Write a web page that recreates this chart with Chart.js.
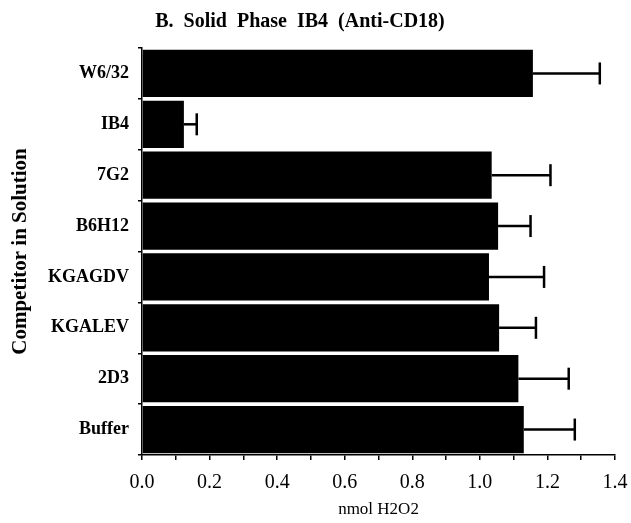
<!DOCTYPE html>
<html>
<head>
<meta charset="utf-8">
<script src="https://cdn.jsdelivr.net/npm/chart.js@4"></script>
<style>
  html, body { margin: 0; padding: 0; background: #fff; }
</style>
</head>
<body>
<canvas id="chart" width="631" height="523"></canvas>
<script>
const chartTitle = 'B. Solid Phase IB4 (Anti-CD18)';
const categories = ['W6/32', 'IB4', '7G2', 'B6H12', 'KGAGDV', 'KGALEV', '2D3', 'Buffer'];
const means = [1.157, 0.124, 1.035, 1.054, 1.027, 1.057, 1.114, 1.130];
const errorTops = [1.355, 0.162, 1.209, 1.150, 1.190, 1.166, 1.263, 1.281];
const xTickLabels = ['0.0', '0.2', '0.4', '0.6', '0.8', '1.0', '1.2', '1.4'];

const serif = '"Liberation Serif", "Times New Roman", serif';

// title drawn by hand so it can sit where the original has it
const titlePlugin = {
    id: 'paperTitle',
    afterDraw(chart) {
        const c = chart.ctx;
        c.save();
        c.font = 'bold 20px ' + serif;
        c.fillStyle = '#000';
        c.textAlign = 'center';
        c.textBaseline = 'middle';
        c.wordSpacing = '5px';
        c.fillText(chartTitle, 300, 22);
        c.restore();
    }
};

// one-sided error bars
const errorBars = {
    id: 'errorBars',
    afterDatasetsDraw(chart) {
        const c = chart.ctx;
        const xs = chart.scales.x;
        const ys = chart.scales.y;
        c.save();
        c.strokeStyle = '#000';
        c.lineCap = 'butt';
        for (let i = 0; i < categories.length; i++) {
            const y = ys.getPixelForValue(i);
            const x1 = xs.getPixelForValue(means[i]);
            const x2 = xs.getPixelForValue(errorTops[i]);
            c.lineWidth = 2.5;
            c.beginPath();
            c.moveTo(x1, y);
            c.lineTo(x2, y);
            c.stroke();
            c.beginPath();
            c.moveTo(x2, y - 11);
            c.lineTo(x2, y + 11);
            c.stroke();
        }
        c.restore();
    }
};

const ctx = document.getElementById('chart');
new Chart(ctx, {
    type: 'bar',
    data: {
        labels: categories,
        datasets: [{
            data: means,
            backgroundColor: '#000',
            borderWidth: 0,
            barPercentage: 0.93,
            categoryPercentage: 1.0,
        }]
    },
    options: {
        indexAxis: 'y',
        responsive: false,
        animation: false,
        devicePixelRatio: 1,
        layout: { padding: { top: 48, right: 16, bottom: 0, left: 0 } },
        plugins: {
            legend: { display: false },
            tooltip: { enabled: false },
        },
        scales: {
            x: {
                min: 0,
                max: 1.4,
                ticks: {
                    stepSize: 0.1,
                    autoSkip: false,
                    maxRotation: 0,
                    color: '#000',
                    font: { family: serif, size: 20 },
                    padding: 11,
                    callback: (v, i) => (i % 2 === 0 ? xTickLabels[i / 2] : ''),
                },
                grid: { drawOnChartArea: false, color: '#000', lineWidth: 1.5, tickLength: 5 },
                border: { display: true, color: '#000', width: 1.5 },
                title: {
                    display: true,
                    text: 'nmol H2O2',
                    color: '#000',
                    font: { family: serif, size: 17 },
                    padding: { top: 0, bottom: 3 },
                },
                afterFit: (s) => {
                    s.height = 68;
                    s.paddingLeft = 0;
                    s.paddingRight = 0;
                },
            },
            y: {
                offset: true,
                ticks: {
                    color: '#000',
                    font: { family: serif, size: 18, weight: 'bold' },
                    padding: 9,
                },
                grid: { offset: true, drawOnChartArea: false, color: '#000', lineWidth: 1.5, tickLength: 4 },
                border: { display: true, color: '#000', width: 1.5 },
                title: {
                    display: true,
                    text: 'Competitor in Solution',
                    color: '#000',
                    font: { family: serif, size: 21, weight: 'bold' },
                    padding: { top: 8, bottom: 0 },
                },
                afterFit: (s) => { s.width = 142; },
            }
        }
    },
    plugins: [titlePlugin, errorBars]
});
</script>
</body>
</html>
